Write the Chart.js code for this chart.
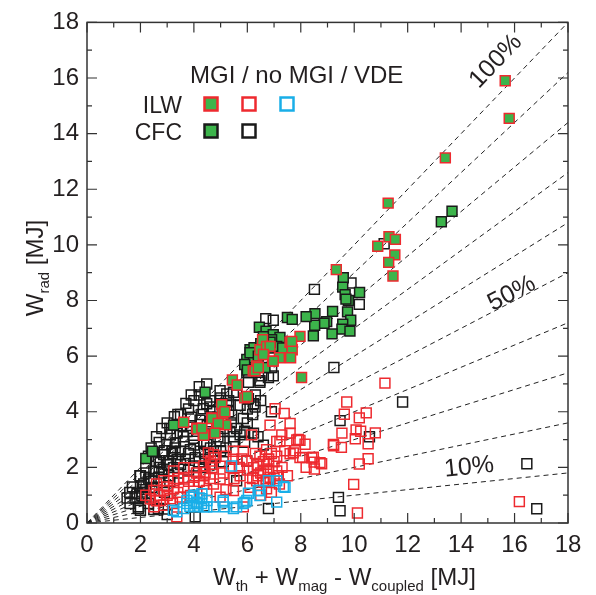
<!DOCTYPE html>
<html>
<head>
<meta charset="utf-8">
<script src="https://cdn.jsdelivr.net/npm/chart.js@4/dist/chart.umd.min.js"></script>
<style>
html, body { margin: 0; padding: 0; background: #fff; }
#wrap { width: 596px; height: 595px; }
</style>
</head>
<body>
<div id="wrap"><canvas id="c" width="596" height="595"></canvas></div>
<script>
// tick labels (both axes run 0..18 MJ)
var xTicks = [0, 2, 4, 6, 8, 10, 12, 14, 16, 18];
var yTicks = [0, 2, 4, 6, 8, 10, 12, 14, 16, 18];
// radiated fraction reference lines
var ratios = [0.1, 0.2, 0.3, 0.4, 0.5, 0.6, 0.7, 0.8, 0.9, 1.0];

// ILW, MGI (green, red edge)
var ilwMgi = [[15.65,15.9],[15.8,14.55],[13.41,13.13],[11.27,11.5],[11.30,10.29],[11.54,10.2],[10.88,9.95],
  [11.52,9.64],[11.29,9.37],[11.45,8.88],[9.33,9.11],[7.97,6.71],[6.57,6.59],[7.6,6.5],[7.68,6.23],[7.62,5.94],
  [7.2,5.94],[6.95,5.82],[6.47,6.23],[6.62,6.06],[6.72,6.35],[6.22,5.47],[6.35,5.65],[8.03,5.23],[5.44,5.14],
  [5.62,4.96],[5.9,4.5],[6.0,4.55],[6.85,6.35],[6.6,6.06],[6.97,5.82],[7.66,6.53],[6.29,5.47],[6.41,5.59],
  [5.04,4.25],[4.67,3.78],[5.08,3.94],[4.85,3.58],[5.19,3.53],[4.11,3.41],[4.35,3.17],[3.62,3.62],[4.12,3.38],
  [4.37,3.15],[4.30,3.41],[4.68,3.76],[5.16,4.0],[4.91,3.58],[4.79,3.23]];

// ILW, no MGI (open red)
var ilwNoMgi = [[11.15,5.03],[9.72,4.35],[9.63,3.91],[10.19,3.78],[10.45,3.96],[9.54,3.23],[10.07,3.35],
  [10.24,3.30],[10.04,3.03],[10.79,3.24],[10.52,2.85],[9.23,2.78],[9.52,2.72],[8.16,2.83],[7.97,2.97],
  [8.07,2.36],[8.47,2.37],[8.5,2.19],[8.78,2.13],[8.51,1.94],[10.52,2.31],[10.19,2.12],[9.98,1.39],
  [10.12,0.36],[16.18,0.77],[9.22,2.82],[7.04,4.11],[7.38,3.94],[7.6,3.58],[7.6,3.23],[7.91,3.0],[7.22,2.93],
  [8.41,2.34],[8.72,2.17],[7.6,2.49],[7.72,2.52],[6.85,3.52],[7.1,2.93],[7.29,3.17],[7.85,2.99],[7.97,2.35],
  [6.72,2.64],[6.47,2.40],[6.16,3.17],[5.85,2.58],[5.48,2.58],[6.23,1.99],[6.72,2.11],[7.1,1.87],[6.85,1.64],
  [6.6,1.46],[6.35,1.52],[6.1,1.28],[6.72,1.23],[7.16,1.70],[5.73,1.70],[5.35,1.99],[4.98,1.58],[4.73,1.40],
  [4.48,1.17],[4.98,0.93],[5.48,1.17],[5.85,0.58],[5.48,2.29],[5.98,2.23],[4.54,2.52],[4.79,2.35],[4.67,2.11],
  [4.42,1.82],[3.62,1.99],[3.99,1.99],[4.37,2.05],[3.24,1.87],[2.87,1.52],[3.24,1.52],[3.62,1.58],[3.99,1.64],
  [4.37,1.70],[4.68,1.99],[4.74,2.46],[4.62,2.23],[2.5,1.17],[2.87,1.17],[3.24,1.23],[3.62,1.28],[3.99,1.34],
  [4.37,1.40],[2.37,0.87],[2.74,0.81],[3.12,0.87],[3.49,0.93],[3.87,0.99],[2.5,0.58],[2.87,0.64],[3.36,0.22],
  [6.5,1.8],[6.8,1.9],[7.0,2.2],[6.9,2.5],[6.6,2.2],[6.4,1.7],[7.2,1.4],[6.9,1.1],[6.5,1.0],[6.3,2.5],
  [7.3,2.0],[6.7,1.5],[7.1,2.4],[2.2,1.0],[2.6,1.4],[3.0,1.0],[3.4,1.1],[4.1,1.8],[5.2,2.4],[5.7,2.0],
  [6.2,1.6],[6.6,1.9],[6.8,2.3],[7.0,1.6],[6.4,2.1],[6.0,1.9],[5.8,2.3],[5.5,1.6],[5.2,1.2],[4.6,1.6],
  [4.2,1.5],[3.8,1.5],[3.4,1.6],[3.0,1.3],[2.7,1.0],[7.4,2.6],[7.8,2.6],[8.2,2.0],[3.2,0.7],[2.6,0.8],
  [5.1,1.8],[7.5,1.7]];

// ILW, VDE (open blue)
var ilwVde = [[7.35,1.31],[7.1,1.52],[6.79,1.52],[7.1,0.75],[6.47,0.99],[6.47,1.17],[6.04,1.07],[5.91,0.75],
  [5.48,0.52],[5.1,0.75],[5.6,0.58],[4.48,0.58],[4.11,0.75],[3.73,0.70],[3.36,0.40],[3.23,0.46],[4.04,0.58],
  [3.92,0.93],[4.29,0.87],[5.41,2.05],[3.62,0.52],[3.74,0.81],[3.99,0.93],[4.12,0.70],[4.37,0.58],[4.49,0.81],
  [4.74,0.58],[4.29,0.70],[5.10,0.81],[5.16,0.58],[5.85,0.70],[5.98,0.81],[6.41,1.17],[7.41,1.28],[4.2,0.9],
  [4.0,1.0],[4.3,1.05],[4.15,0.6],[3.85,0.6]];

// CFC, MGI (green, black edge)
var cfcMgi = [[13.66,11.21],[13.26,10.83],[9.59,8.82],[9.57,8.48],[10.2,8.29],[9.66,8.21],[9.78,8.0],[9.69,8.05],
  [9.19,7.61],[9.75,7.59],[9.87,7.29],[9.57,7.15],[9.54,6.97],[9.84,6.9],[9.17,6.8],[8.97,7.24],[8.87,7.18],
  [8.53,7.53],[8.52,7.11],[8.47,6.73],[8.2,7.42],[7.5,7.39],[7.68,7.32],[6.45,7.04],[6.7,6.9],[6.97,6.77],
  [7.22,6.67],[6.91,6.59],[7.1,6.35],[6.79,6.29],[7.32,6.29],[6.1,6.23],[6.25,6.3],[5.98,5.88],[6.23,5.94],
  [6.1,6.12],[6.41,6.0],[6.66,5.59],[5.9,5.7],[6.0,5.5],[6.5,6.45],[6.85,6.5],[6.6,6.7],[4.42,4.70],[6.04,4.47],
  [5.04,4.29],[3.24,3.52],[2.2,2.32],[2.45,2.58]];

// CFC, no MGI (open black)
var cfcNoMgi = [[11.12,10.04],[9.88,8.63],[10.19,7.86],[8.51,8.40],[6.69,7.35],[6.97,7.29],[9.24,5.59],[6.54,5.29],
  [6.97,5.29],[6.04,5.41],[6.47,5.06],[4.48,5.0],[4.98,4.76],[5.23,4.64],[5.48,4.70],[11.81,4.35],[9.47,3.68],
  [10.57,3.1],[16.46,2.13],[16.83,0.51],[9.41,0.92],[9.47,0.44],[6.04,5.06],[6.47,5.12],[6.79,5.23],[6.91,5.59],
  [5.98,5.41],[4.48,4.29],[6.29,4.17],[3.27,3.82],[3.12,3.17],[3.37,3.23],[3.74,3.29],[2.99,2.82],[3.31,2.88],
  [3.62,2.93],[3.99,3.05],[4.37,2.88],[2.87,2.46],[3.18,2.58],[3.49,2.58],[3.87,2.64],[4.24,2.58],[4.62,2.7],
  [2.74,2.17],[3.06,2.23],[3.37,2.29],[3.68,2.29],[4.05,2.35],[4.43,2.29],[2.5,1.87],[2.87,1.93],[3.24,1.99],
  [3.99,2.05],[4.37,1.99],[2.31,1.58],[2.68,1.64],[3.06,1.70],[2.0,1.70],[2.12,1.40],[2.43,1.28],[1.87,1.05],
  [2.18,0.93],[1.93,0.58],[2.0,0.46],[2.5,0.48],[4.05,0.22],[1.61,0.70],[2.05,0.99],[1.92,0.52],[1.98,1.70],
  [2.06,1.11],[2.67,0.52],[6.79,0.52],[5.6,1.52],[4.35,4.11],[4.6,4.17],[5.23,4.23],[5.73,4.23],[6.23,4.29],
  [4.23,3.70],[4.6,3.64],[5.41,3.88],[5.85,3.76],[6.23,3.23],[5.35,3.29],[5.73,3.17],[4.98,2.93],[5.48,2.93],
  [4.48,2.82],[4.73,2.58],[5.98,2.23],[2.6,3.1],[2.8,3.4],[3.0,3.6],[3.5,3.9],[3.8,4.1],[4.0,4.4],[4.2,4.6],
  [3.7,4.3],[3.9,3.8],[4.1,3.3],[4.5,3.5],[4.9,3.1],[5.2,2.7],[4.8,2.4],[5.1,2.2],[2.4,2.7],[2.6,2.2],[2.2,2.0],
  [2.9,2.6],[3.3,2.7],[3.8,2.5],[4.2,2.2],[4.6,2.1],[3.5,2.1],[2.8,1.8],[3.1,1.5],[2.4,1.5],[2.2,1.2],[1.7,1.3],
  [1.5,0.9],[2.9,1.1],[5.4,3.6],[5.6,3.4],[6.0,3.6],[6.4,3.1],[6.6,2.8],[5.9,2.9],[6.9,4.0],[6.5,4.4],[5.0,4.5],
  [4.7,4.0],[5.6,4.6],[4.2,4.9],[3.9,4.6],[3.4,3.9],[2.3,2.4],[2.7,2.9],[3.1,3.4],[3.5,3.5],[3.9,3.5],[4.3,3.9],
  [4.6,4.4],[5.3,4.0],[5.1,3.4],[4.4,3.2],[3.6,3.1],[3.2,2.5],[4.0,2.8],[4.4,2.5],[5.0,2.6],[5.5,3.1],[5.9,3.3],
  [6.2,3.9],[2.7,2.0],[3.0,2.1],[3.4,1.8],[3.8,1.9],[2.5,1.6],[2.0,1.3],[1.8,0.9],[2.3,0.7],[2.9,0.5],[3.0,0.3],
  [1.6,1.1],[2.2,1.8],[5.3,4.4],[4.9,3.8],[6.3,4.6],[6.0,4.1]];

var GREEN = '#3cb44b', RED = '#ee2a2f', BLUE = '#19aee8', BLACK = '#1a1a1a', INK = '#231f20';
var FONT = '"Liberation Sans", Arial, Helvetica, sans-serif';

function pts(arr) {
    return arr.map(function(p) { return {x: p[0], y: p[1]}; });
}

function markers(arr, fill, edge, order) {
    return {
        data: pts(arr),
        pointStyle: 'rect',
        pointRadius: 7,
        pointBorderWidth: 1.5,
        pointBackgroundColor: fill,
        pointBorderColor: edge,
        showLine: false,
        order: order
    };
}

var datasets = [];
ratios.forEach(function(r) {
    datasets.push({
        type: 'line',
        data: [{x: 0, y: 0}, {x: 18, y: 18 * r}],
        borderColor: '#222',
        borderWidth: 1,
        borderDash: [5, 4],
        pointRadius: 0,
        fill: false,
        order: 10
    });
});
datasets.push(markers(cfcNoMgi, 'rgba(0,0,0,0)', BLACK, 5));
datasets.push(markers(ilwNoMgi, 'rgba(0,0,0,0)', RED, 4));
datasets.push(markers(ilwVde, 'rgba(0,0,0,0)', BLUE, 3));
datasets.push(markers(cfcMgi, GREEN, BLACK, 2));
datasets.push(markers(ilwMgi, GREEN, RED, 1));

// draws subscripted text starting at x, returns end x
function subText(ctx, parts, x, y) {
    parts.forEach(function(p) {
        ctx.font = (p[1] ? '15px ' : '24px ') + FONT;
        ctx.fillText(p[0], x, p[1] ? y + 6 : y);
        x += ctx.measureText(p[0]).width;
    });
    return x;
}

var decor = {
    id: 'decor',
    afterDraw: function(chart) {
        var ctx = chart.ctx, a = chart.chartArea;
        var xs = chart.scales.x, ys = chart.scales.y;
        ctx.save();

        // frame and inward ticks
        ctx.strokeStyle = '#333';
        ctx.lineWidth = 1.5;
        ctx.strokeRect(a.left, a.top, a.right - a.left, a.bottom - a.top);
        ctx.lineWidth = 1.2;
        ctx.beginPath();
        for (var v = 0; v <= 18; v++) {
            var len = v % 2 === 0 ? 10 : 5;
            var px = xs.getPixelForValue(v), py = ys.getPixelForValue(v);
            ctx.moveTo(px, a.bottom); ctx.lineTo(px, a.bottom - len);
            ctx.moveTo(px, a.top); ctx.lineTo(px, a.top + len);
            ctx.moveTo(a.left, py); ctx.lineTo(a.left + len, py);
            ctx.moveTo(a.right, py); ctx.lineTo(a.right - len, py);
        }
        ctx.stroke();

        // percentage labels along the reference lines
        ctx.fillStyle = INK;
        ctx.textAlign = 'center';
        ctx.textBaseline = 'middle';
        ctx.font = '25px ' + FONT;
        [['100%', 1.0, 15.3, 16.6], ['50%', 0.5, 15.9, 8.25], ['10%', 0.1, 14.3, 2.0]].forEach(function(l) {
            var ang = Math.atan2(ys.getPixelForValue(18 * l[1]) - ys.getPixelForValue(0),
                                 xs.getPixelForValue(18) - xs.getPixelForValue(0));
            ctx.save();
            ctx.translate(xs.getPixelForValue(l[2]), ys.getPixelForValue(l[3]));
            ctx.rotate(ang);
            ctx.fillText(l[0], 0, 0);
            ctx.restore();
        });

        // legend block
        ctx.textBaseline = 'alphabetic';
        ctx.textAlign = 'left';
        ctx.font = '24px ' + FONT;
        ctx.fillText('MGI / no MGI / VDE', 190, 83);
        ctx.textAlign = 'right';
        ctx.font = '23px ' + FONT;
        ctx.fillText('ILW', 182, 113);
        ctx.fillText('CFC', 182, 140);
        ctx.lineWidth = 2.5;
        [[211, 104, GREEN, RED], [249, 104, null, RED], [287, 104, null, BLUE],
         [211, 131, GREEN, BLACK], [249, 131, null, BLACK]].forEach(function(m) {
            if (m[2]) { ctx.fillStyle = m[2]; ctx.fillRect(m[0] - 6.5, m[1] - 6.5, 13, 13); }
            ctx.strokeStyle = m[3];
            ctx.strokeRect(m[0] - 6.5, m[1] - 6.5, 13, 13);
        });

        // axis titles with subscripts
        ctx.fillStyle = INK;
        ctx.textAlign = 'left';
        subText(ctx, [['W', 0], ['th', 1], [' + W', 0], ['mag', 1], [' - W', 0], ['coupled', 1], [' [MJ]', 0]], 213, 585);
        ctx.save();
        ctx.translate(43, 268);
        ctx.rotate(-Math.PI / 2);
        ctx.font = '24px ' + FONT;
        var w1 = ctx.measureText('W').width, w3 = ctx.measureText(' [MJ]').width;
        ctx.font = '15px ' + FONT;
        var w2 = ctx.measureText('rad').width;
        subText(ctx, [['W', 0], ['rad', 1], [' [MJ]', 0]], -(w1 + w2 + w3) / 2, 0);
        ctx.restore();

        ctx.restore();
    }
};

var tickFont = {family: FONT, size: 24};

new Chart(document.getElementById('c'), {
    type: 'scatter',
    data: {datasets: datasets},
    options: {
        responsive: false,
        animation: false,
        events: [],
        layout: {padding: {top: 14, right: 28, left: 0, bottom: 0}},
        plugins: {legend: {display: false}, tooltip: {enabled: false}},
        scales: {
            x: {
                type: 'linear', min: 0, max: 18,
                grid: {display: false, drawTicks: false},
                border: {display: false},
                afterBuildTicks: function(s) { s.ticks = xTicks.map(function(v) { return {value: v}; }); },
                ticks: {font: tickFont, color: INK, padding: 8, autoSkip: false, maxRotation: 0},
                afterFit: function(s) { s.height = 72; }
            },
            y: {
                type: 'linear', min: 0, max: 18,
                grid: {display: false, drawTicks: false},
                border: {display: false},
                afterBuildTicks: function(s) { s.ticks = yTicks.map(function(v) { return {value: v}; }); },
                ticks: {font: tickFont, color: INK, padding: 8, autoSkip: false},
                afterFit: function(s) { s.width = 87; }
            }
        }
    },
    plugins: [decor]
});
</script>
</body>
</html>
